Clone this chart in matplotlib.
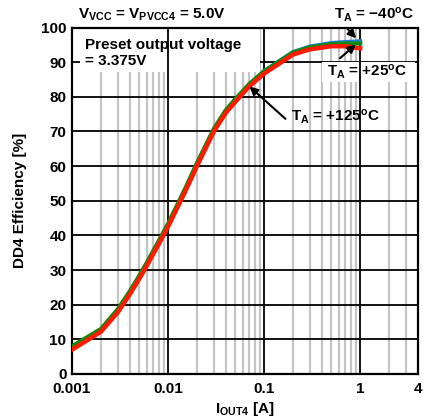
import numpy as np
import matplotlib.pyplot as plt
from matplotlib.patches import Rectangle

plt.rcParams['font.family'] = ['Liberation Sans', 'DejaVu Sans']
plt.rcParams['font.weight'] = 'bold'
plt.rcParams['mathtext.default'] = 'regular'

# efficiency data
iout = [0.001, 0.002, 0.003, 0.004, 0.005, 0.006, 0.007, 0.008, 0.01, 0.015,
        0.02, 0.03, 0.04, 0.05, 0.07, 0.1, 0.2, 0.3, 0.5, 0.7, 1.0]
eff_125 = [7.0, 12.2, 17.8, 23.0, 27.4, 31.2, 34.6, 37.5, 42.5, 52.5,
           60.0, 70.0, 75.4, 78.5, 83.0, 86.7, 92.2, 93.7, 94.6, 94.6, 94.0]
eff_25 = [8.0, 13.0, 18.7, 23.9, 28.3, 32.1, 35.5, 38.4, 43.4, 53.4,
          60.9, 70.8, 76.2, 79.3, 83.7, 87.4, 92.8, 94.3, 95.2, 95.4, 95.4]
iout_m40 = [0.1, 0.2, 0.3, 0.5, 0.7, 1.0]
eff_m40 = [87.4, 92.9, 94.5, 95.5, 95.8, 96.0]

xticks = [0.001, 0.01, 0.1, 1, 4]
xticklabels = ['0.001', '0.01', '0.1', '1', '4']
yticks = list(range(0, 101, 10))

fig = plt.figure(figsize=(4.25, 4.18), dpi=100)
ax = fig.add_axes([0.1694, 0.1053, 0.8141, 0.8289])
ax.set_xscale('log')
ax.set_xlim(0.001, 4)
ax.set_ylim(0, 100)

# minor gray verticals
for dec in [0.001, 0.01, 0.1, 1]:
    for m in range(2, 10):
        v = dec * m
        if v < 4:
            ax.axvline(v, color='#c4c4c4', lw=1.6, zorder=1)
for y in yticks[1:-1]:
    ax.axhline(y, color='black', lw=1.3, zorder=1.5)

# white boxes covering grid
ax.add_patch(Rectangle((80 / 425, (418 - 72) / 418), 180 / 425, 44 / 418,
                       transform=fig.transFigure, facecolor='white',
                       edgecolor='none', zorder=2))
ax.add_patch(Rectangle((322 / 425, (418 - 82) / 418), 93 / 425, 20 / 418,
                       transform=fig.transFigure, facecolor='white',
                       edgecolor='none', zorder=2))

for v in [0.01, 0.1, 1]:
    ax.axvline(v, color='black', lw=1.3, zorder=2.5)

ax.plot(iout_m40, eff_m40, color='#1e7fe0', lw=3, zorder=3)
ax.plot(iout, eff_25, color='#108a10', lw=3, zorder=3.1)
ax.plot(iout, eff_125, color='#ff1a00', lw=3.2, zorder=3.2)

for s in ax.spines.values():
    s.set_linewidth(1.6)
ax.set_xticks(xticks)
ax.set_xticklabels(xticklabels)
ax.minorticks_off()
ax.set_yticks(yticks)
ax.tick_params(axis='y', length=0, labelsize=11, pad=4)
ax.tick_params(axis='x', length=0, labelsize=11, pad=6)
for lab in ax.get_xticklabels() + ax.get_yticklabels():
    lab.set_fontweight('bold')

ax.set_xlabel(r'I$_\mathregular{OUT4}$ [A]', fontsize=11, fontweight='bold', labelpad=3)
ax.set_ylabel('DD4 Efficiency [%]', fontsize=11, fontweight='bold', labelpad=10)

fig.text(78 / 425, 1 - 15 / 418, r'V$_\mathregular{VCC}$ = V$_\mathregular{PVCC4}$ = 5.0V',
         fontsize=11, fontweight='bold', va='center', ha='left')
fig.text(85 / 425, 1 - 53 / 418, 'Preset output voltage\n= 3.375V',
         fontsize=11, fontweight='bold', va='center', ha='left', zorder=5,
         linespacing=1.25)

t40 = 'T$_\\mathregular{A}$ = \u221240$^\\mathregular{o}$C'
t25 = 'T$_\\mathregular{A}$ = +25$^\\mathregular{o}$C'
t125 = 'T$_\\mathregular{A}$ = +125$^\\mathregular{o}$C'
arrow = dict(arrowstyle='-|>', color='black', lw=1.5, mutation_scale=12)
ax.annotate(t40, xy=(0.95, 96.3), xycoords='data',
            xytext=(414 / 425, 1 - 15 / 418), textcoords='figure fraction',
            fontsize=11, fontweight='bold', ha='right', va='center',
            arrowprops=dict(arrow, relpos=(0.12, 0.0)), zorder=6,
            annotation_clip=False)
ax.annotate(t25, xy=(0.95, 95.6), xycoords='data',
            xytext=(407 / 425, 1 - 72 / 418), textcoords='figure fraction',
            fontsize=11, fontweight='bold', ha='right', va='center',
            arrowprops=dict(arrow, relpos=(0.1, 1.0)), zorder=6)
ax.annotate(t125, xy=(0.067, 83.5), xycoords='data',
            xytext=(380 / 425, 1 - 117 / 418), textcoords='figure fraction',
            fontsize=11, fontweight='bold', ha='right', va='center',
            arrowprops=dict(arrow, relpos=(-0.04, 0.3)), zorder=6)

fig.savefig('out.png', dpi=100)
